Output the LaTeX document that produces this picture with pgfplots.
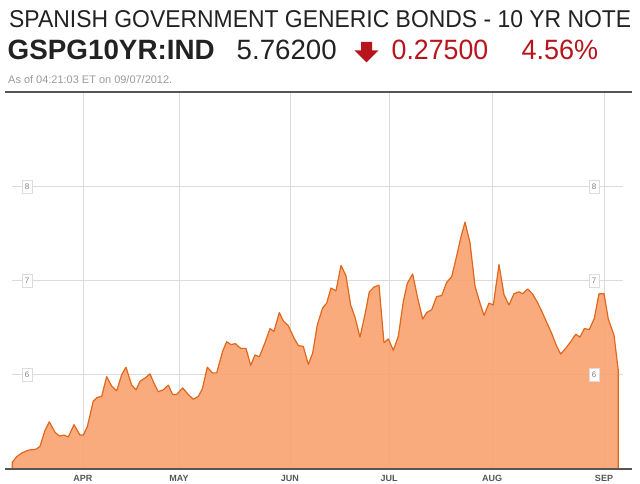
\documentclass[border=0pt]{standalone}
\usepackage{pgfplots}
\pgfplotsset{compat=1.18}
\usepackage{fontspec}
\setmainfont{Liberation Sans}
\definecolor{fillc}{HTML}{F8A26F}
\definecolor{linec}{HTML}{E0671C}
\definecolor{gridc}{HTML}{DCDCDC}
\definecolor{redc}{HTML}{B8141C}
\definecolor{axc}{HTML}{555555}
\definecolor{txtc}{HTML}{222222}
\tikzset{lbl/.style={draw=gridc, fill=white, text=gray, font=\fontsize{8}{9}\selectfont, inner sep=1.5pt, minimum width=10pt, minimum height=13pt}}
\begin{document}
\begin{tikzpicture}[x=1pt,y=1pt]
\path[use as bounding box] (0,0) rectangle (640,484);
% header
\node[anchor=base west, inner sep=0] at (9,456.5) {\resizebox{622pt}{17pt}{\color{txtc}SPANISH GOVERNMENT GENERIC BONDS - 10 YR NOTE}};
\node[anchor=base west, inner sep=0] at (7.5,424) {\resizebox{207pt}{19.5pt}{\color{txtc}\bfseries GSPG10YR:IND}};
\node[anchor=base west, inner sep=0] at (236.5,424) {\resizebox{100pt}{19.5pt}{\color{txtc}5.76200}};
\fill[redc] (361,442) -- (372,442) -- (372,433.5) -- (378.5,433.5) -- (366.5,421.5) -- (354.5,433.5) -- (361,433.5) -- cycle;
\node[anchor=base west, inner sep=0] at (391.5,424) {\resizebox{96.5pt}{19.5pt}{\color{redc}0.27500}};
\node[anchor=base west, inner sep=0] at (521.5,424) {\resizebox{76.5pt}{19.5pt}{\color{redc}4.56\%}};
\node[anchor=base west, inner sep=0] at (8,400) {\resizebox{164pt}{!}{\color[HTML]{9A9A9A}\fontsize{10}{12}\selectfont As of 04:21:03 ET on 09/07/2012.}};
\begin{axis}[
  at={(12pt,15pt)}, anchor=south west,
  scale only axis, width=611pt, height=377pt,
  xmin=-20.85, xmax=158.59, ymin=5, ymax=9,
  axis line style={draw=none},
  major tick length=0pt,
  xtick={0,28.19,60.79,89.87,120.12,153.01},
  xticklabels={APR,MAY,JUN,JUL,AUG,SEP},
  xticklabel style={font=\bfseries\fontsize{9}{10}\selectfont, text=axc, anchor=center, yshift=-9.5pt},
  ytick={6,7,8}, yticklabels={},
  grid=major, grid style={gridc, line width=0.8pt},
  clip=false,
]
\addplot[draw=linec, line width=1.2pt, fill=fillc, fill opacity=0.9, line join=round] coordinates {
(-20.8,5.07) (-19.48,5.13) (-18.01,5.17) (-16.05,5.20) (-13.80,5.21) (-12.63,5.24)
(-11.16,5.41) (-9.89,5.50) (-8.22,5.39) (-6.95,5.35) (-5.58,5.36) (-4.31,5.34)
(-2.64,5.47) (-0.88,5.36) (0.10,5.36) (1.27,5.45) (3.03,5.72) (4.21,5.76)
(5.48,5.77) (6.95,5.98) (8.42,5.88) (9.89,5.83) (11.36,6.00) (12.63,6.08)
(14.29,5.89) (15.57,5.84) (16.74,5.93) (18.41,5.97) (19.68,6.01) (20.85,5.91)
(22.12,5.82) (23.59,5.84) (25.06,5.89) (26.33,5.79) (27.51,5.79) (29.27,5.86)
(30.93,5.79) (32.40,5.74) (33.87,5.77) (35.05,5.85) (36.51,6.08) (37.98,6.02)
(39.26,6.02) (41.02,6.25) (42.19,6.35) (43.47,6.32) (44.74,6.33) (46.31,6.28)
(47.87,6.28) (49.25,6.10) (50.51,6.21) (51.79,6.19) (53.45,6.34) (54.92,6.49)
(56.09,6.46) (57.66,6.66) (58.84,6.57) (60.30,6.52) (61.97,6.39) (63.24,6.31)
(64.71,6.30) (66.18,6.11) (67.45,6.23) (68.82,6.53) (70.39,6.71) (71.56,6.76)
(72.83,6.92) (74.30,6.89) (75.77,7.16) (77.24,7.05) (78.61,6.74) (79.88,6.61)
(81.35,6.40) (82.82,6.64) (84.09,6.88) (85.46,6.93) (86.93,6.95) (88.40,6.34)
(89.68,6.38) (91.14,6.26) (92.61,6.41) (94.08,6.78) (95.25,6.97) (96.82,7.07)
(98.19,6.83) (99.76,6.59) (100.93,6.66) (102.40,6.69) (103.87,6.83) (105.34,6.84)
(106.80,6.98) (108.27,7.04) (109.74,7.26) (110.92,7.45) (112.19,7.62) (113.66,7.40)
(115.13,6.94) (116.59,6.76) (117.77,6.63) (119.24,6.76) (120.51,6.74) (122.17,7.17)
(123.64,6.85) (125.11,6.74) (126.58,6.86) (128.05,6.88) (129.13,6.86) (130.59,6.91)
(131.96,6.86) (133.43,6.77) (134.90,6.66) (136.37,6.54) (137.64,6.44) (138.91,6.32)
(140.28,6.22) (141.75,6.28) (143.22,6.35) (144.69,6.43) (145.96,6.40) (147.23,6.49)
(148.70,6.48) (150.17,6.60) (151.54,6.86) (153.01,6.86) (154.28,6.59) (155.95,6.42)
(157.22,6.04)
} \closedcycle;
\node[lbl] at (axis cs:-16.45,8) {8};
\node[lbl] at (axis cs:-16.45,7) {7};
\node[lbl] at (axis cs:-16.45,6) {6};
\node[lbl] at (axis cs:150.07,8) {8};
\node[lbl] at (axis cs:150.07,7) {7};
\node[lbl] at (axis cs:150.07,6) {6};
\end{axis}
\draw[axc, line width=1.4pt] (5,15) -- (632,15);
\draw[axc, line width=1.4pt] (5,392) -- (632,392);
\end{tikzpicture}
\end{document}
